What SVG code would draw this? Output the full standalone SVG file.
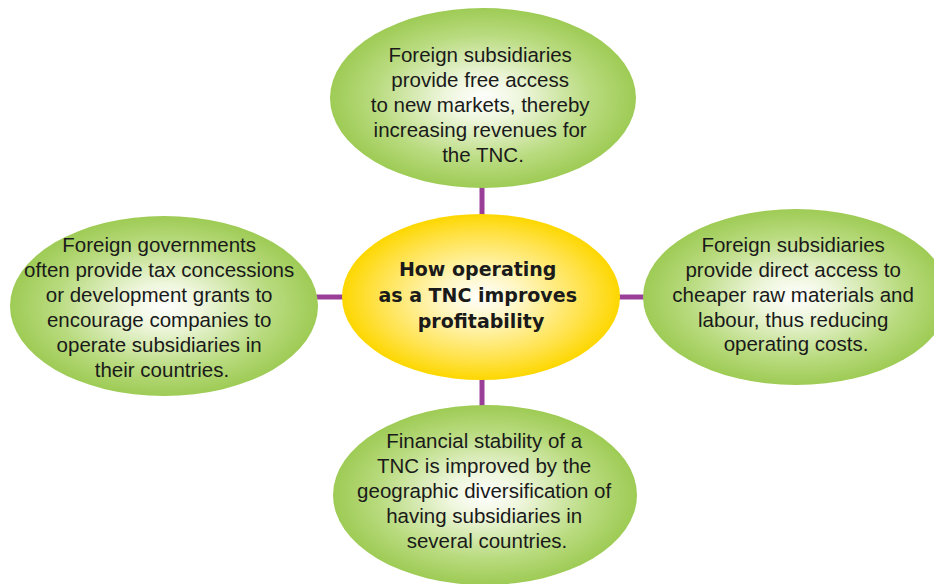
<svg xmlns="http://www.w3.org/2000/svg" width="934" height="584" viewBox="0 0 934 584">
  <defs>
    <radialGradient id="greenFill" cx="50%" cy="50%" r="50%">
      <stop offset="0" stop-color="#ffffff"/>
      <stop offset="0.25" stop-color="#eef6dc"/>
      <stop offset="0.7" stop-color="#b9db7f"/>
      <stop offset="1" stop-color="#9ecb55"/>
    </radialGradient>
    <radialGradient id="yellowFill" cx="50%" cy="50%" r="50%">
      <stop offset="0" stop-color="#ffffff"/>
      <stop offset="0.3" stop-color="#fff6c0"/>
      <stop offset="0.75" stop-color="#ffe24a"/>
      <stop offset="1" stop-color="#fdd700"/>
    </radialGradient>
  </defs>
  <style>
    .link { stroke: #9a3f98; stroke-width: 5; fill: none; }
    .leaf { fill: url(#greenFill); }
    .hub { fill: url(#yellowFill); }
    .txt { font-family: "Liberation Sans", Arial, sans-serif; font-size: 20.5px; fill: #1a1a1a; text-anchor: middle; }
    .hubtxt { font-family: "DejaVu Sans", "Liberation Sans", sans-serif; font-weight: bold; font-size: 19px; fill: #1a1a1a; text-anchor: middle; }
  </style>
  <rect width="934" height="584" fill="#ffffff"/>

  <!-- connectors from the hub to each outer oval -->
  <g id="connectors">
    <line class="link" x1="482" y1="186" x2="482" y2="218"/>
    <line class="link" x1="482" y1="378" x2="482" y2="408"/>
    <line class="link" x1="314" y1="297" x2="345" y2="297"/>
    <line class="link" x1="616" y1="297" x2="646" y2="297"/>
  </g>

  <g id="node-top">
    <ellipse class="leaf" cx="483" cy="98" rx="153" ry="90"/>
    <text class="txt">
      <tspan x="483" y="62">Foreign subsidiaries</tspan>
      <tspan x="483" y="87">provide free access</tspan>
      <tspan x="483" y="112">to new markets, thereby</tspan>
      <tspan x="483" y="137">increasing revenues for</tspan>
      <tspan x="483" y="162">the TNC.</tspan>
    </text>
  </g>

  <g id="node-left">
    <ellipse class="leaf" cx="164" cy="306" rx="154" ry="90"/>
    <text class="txt">
      <tspan x="162" y="252">Foreign governments</tspan>
      <tspan x="162" y="277">often provide tax concessions</tspan>
      <tspan x="162" y="302">or development grants to</tspan>
      <tspan x="162" y="327">encourage companies to</tspan>
      <tspan x="162" y="352">operate subsidiaries in</tspan>
      <tspan x="162" y="377">their countries.</tspan>
    </text>
  </g>

  <g id="node-right">
    <ellipse class="leaf" cx="796" cy="297" rx="153" ry="88"/>
    <text class="txt">
      <tspan x="796" y="252">Foreign subsidiaries</tspan>
      <tspan x="796" y="277">provide direct access to</tspan>
      <tspan x="796" y="302">cheaper raw materials and</tspan>
      <tspan x="796" y="327">labour, thus reducing</tspan>
      <tspan x="796" y="351">operating costs.</tspan>
    </text>
  </g>

  <g id="node-bottom">
    <ellipse class="leaf" cx="485" cy="495" rx="152" ry="90"/>
    <text class="txt">
      <tspan x="487" y="448">Financial stability of a</tspan>
      <tspan x="487" y="473">TNC is improved by the</tspan>
      <tspan x="487" y="498">geographic diversification of</tspan>
      <tspan x="487" y="523">having subsidiaries in</tspan>
      <tspan x="487" y="548">several countries.</tspan>
    </text>
  </g>

  <g id="node-hub">
    <ellipse class="hub" cx="481" cy="297" rx="139" ry="83"/>
    <text class="hubtxt">
      <tspan x="481" y="276">How operating</tspan>
      <tspan x="481" y="302">as a TNC improves</tspan>
      <tspan x="481" y="328">profitability</tspan>
    </text>
  </g>
</svg>
